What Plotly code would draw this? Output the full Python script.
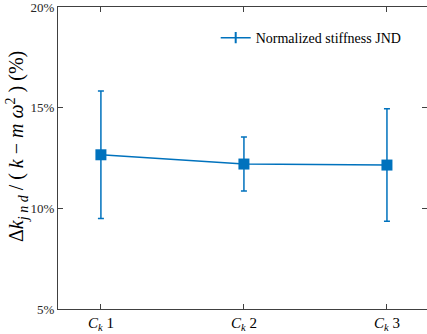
import plotly.graph_objects as go

categories = ["<i>C</i><sub><i>k</i></sub> 1", "<i>C</i><sub><i>k</i></sub> 2", "<i>C</i><sub><i>k</i></sub> 3"]
x_pos = [1, 2, 3]
mean_pct = [12.66, 12.20, 12.15]
err_pct = [3.17, 1.34, 2.79]
y_ticks = [5, 10, 15, 20]
y_ticklabels = ["5%", "10%", "15%", "20%"]
y_title = "Δ<i>k</i><sub><i>j n d</i></sub> / ( <i>k</i> − <i>m ω</i><sup>2</sup> ) (%)"

color = "#0072BD"
axis_color = "#404040"
font_family = "Liberation Serif, Times New Roman, serif"

fig = go.Figure()
fig.add_trace(go.Scatter(
    x=x_pos, y=mean_pct,
    mode="lines+markers",
    name="Normalized stiffness JND",
    showlegend=False,
    line=dict(color=color, width=1.5),
    marker=dict(symbol="square", size=11, color=color),
    error_y=dict(type="data", array=err_pct, visible=True, color=color, thickness=1.5, width=3),
))
# legend entry (small marker, like the reference legend glyph)
fig.add_trace(go.Scatter(
    x=[None], y=[None],
    mode="lines+markers",
    name="Normalized stiffness JND",
    line=dict(color=color, width=1.5),
    marker=dict(symbol="line-ns", size=8, color=color, line=dict(color=color, width=2)),
))

fig.add_annotation(
    text=y_title, textangle=-90,
    xref="paper", yref="paper",
    x=(17 - 58) / 369, y=(309 - 147) / 302,
    xanchor="center", yanchor="middle", showarrow=False,
    font=dict(size=20, family=font_family, color="#000000"),
)

fig.update_layout(
    width=427, height=334,
    margin=dict(l=58, r=0, t=7, b=25),
    paper_bgcolor="white", plot_bgcolor="white",
    font=dict(family=font_family, color="#262626", size=12),
    showlegend=True,
    legend=dict(x=0.945, y=0.95, xanchor="right", yanchor="top",
                bgcolor="rgba(255,255,255,0)", borderwidth=0,
                itemwidth=30,
                font=dict(size=14, family=font_family, color="#000000")),
    xaxis=dict(
        range=[0.7, 3.28],
        tickmode="array", tickvals=x_pos, ticktext=categories,
        ticks="inside", ticklen=5, tickcolor=axis_color,
        showline=True, linecolor=axis_color, linewidth=1, mirror="ticks",
        showgrid=False, zeroline=False,
        tickfont=dict(size=15, family=font_family, color="#000000"),
    ),
    yaxis=dict(
        range=[5, 20],
        tickmode="array", tickvals=y_ticks, ticktext=y_ticklabels,
        ticks="inside", ticklen=5, tickcolor=axis_color,
        showline=True, linecolor=axis_color, linewidth=1, mirror="ticks",
        showgrid=False, zeroline=False,
        ticklabeloverflow="allow",
        tickfont=dict(size=13, family=font_family, color="#262626"),
    ),
)

fig.write_html("out.html")
